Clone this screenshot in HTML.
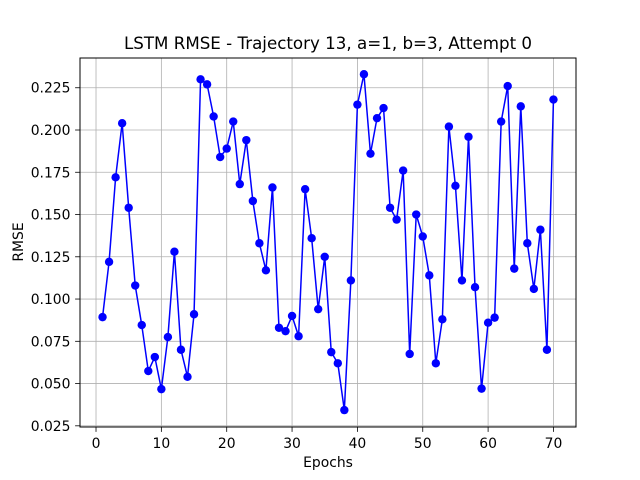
<!DOCTYPE html>
<html><head><meta charset="utf-8"><style>
html,body{margin:0;padding:0;background:#fff;}
svg{display:block;font-family:"DejaVu Sans","Liberation Sans",sans-serif;}
</style></head><body>
<svg id="chart" width="640" height="480" viewBox="0 0 640 480">
<rect width="640" height="480" fill="#fff"/>
<text x="328" y="49" text-anchor="middle" font-size="16.7">LSTM RMSE - Trajectory 13, a=1, b=3, Attempt 0</text>
<g id="grid"></g>
<g id="xticks"></g>
<g id="yticks"></g>
<g id="series"></g>
<rect x="80" y="58" width="496" height="369" fill="none" stroke="#000" stroke-width="1"/>
<text x="328" y="467" text-anchor="middle" font-size="13.9">Epochs</text>
<text transform="translate(23,242) rotate(-90)" text-anchor="middle" font-size="13.9">RMSE</text>
</svg>
<script>
const epochs = Array.from({length:70},(_,i)=>i+1);
const rmse = [0.0893,0.122,0.172,0.204,0.154,0.108,0.0846,0.0574,0.0657,0.0467,
0.0775,0.128,0.070,0.054,0.091,0.230,0.227,0.208,0.184,0.189,
0.205,0.168,0.194,0.158,0.133,0.117,0.166,0.083,0.081,0.090,
0.078,0.165,0.136,0.094,0.125,0.0686,0.062,0.0343,0.111,0.215,
0.233,0.186,0.207,0.213,0.154,0.147,0.176,0.0675,0.150,0.137,
0.114,0.062,0.088,0.202,0.167,0.111,0.196,0.107,0.047,0.086,
0.089,0.205,0.226,0.118,0.214,0.133,0.106,0.141,0.070,0.218];
const xTicks = [0,10,20,30,40,50,60,70];
const yTicks = [0.025,0.050,0.075,0.100,0.125,0.150,0.175,0.200,0.225];

const L=80,R=576,T=58,B=427;
const xMin=-2.45,xMax=73.45,yMin=0.0243,yMax=0.2426;
const sx=v=>L+(v-xMin)/(xMax-xMin)*(R-L);
const sy=v=>B-(v-yMin)/(yMax-yMin)*(B-T);
const NS="http://www.w3.org/2000/svg";
function mk(tag,attrs,parent){const e=document.createElementNS(NS,tag);for(const k in attrs)e.setAttribute(k,attrs[k]);parent.appendChild(e);return e;}
const grid=document.getElementById('grid'),gx=document.getElementById('xticks'),gy=document.getElementById('yticks'),gs=document.getElementById('series');
xTicks.forEach(t=>{const x=sx(t);
 const gl=mk('line',{x1:x,x2:x,y1:T,y2:B,stroke:'#b0b0b0','stroke-width':0.8},grid);
 
 
 const tk=mk('line',{x1:x,x2:x,y1:B,y2:B+4.9,stroke:'#000','stroke-width':0.8},gx);
 
 
 const tx=mk('text',{x:x,y:B+21,'text-anchor':'middle','font-size':13.9},gx);tx.textContent=t;
 
 
});
yTicks.forEach(t=>{const y=sy(t);
 const gl=mk('line',{x1:L,x2:R,y1:y,y2:y,stroke:'#b0b0b0','stroke-width':0.8},grid);
 
 
 const tk=mk('line',{x1:L-4.9,x2:L,y1:y,y2:y,stroke:'#000','stroke-width':0.8},gy);
 
 
 const tx=mk('text',{x:L-9.5,y:y+5,'text-anchor':'end','font-size':13.9},gy);tx.textContent=t.toFixed(3);
 
 
});
const pts=epochs.map((e,i)=>sx(e)+','+sy(rmse[i])).join(' ');
const line=mk('polyline',{points:pts,fill:'none',stroke:'#0000ff','stroke-width':1.5},gs);


epochs.forEach((e,i)=>{
 const c=mk('circle',{cx:sx(e),cy:sy(rmse[i]),r:4.2,fill:'#0000ff'},gs);
 
 
});
</script>
</body></html>
